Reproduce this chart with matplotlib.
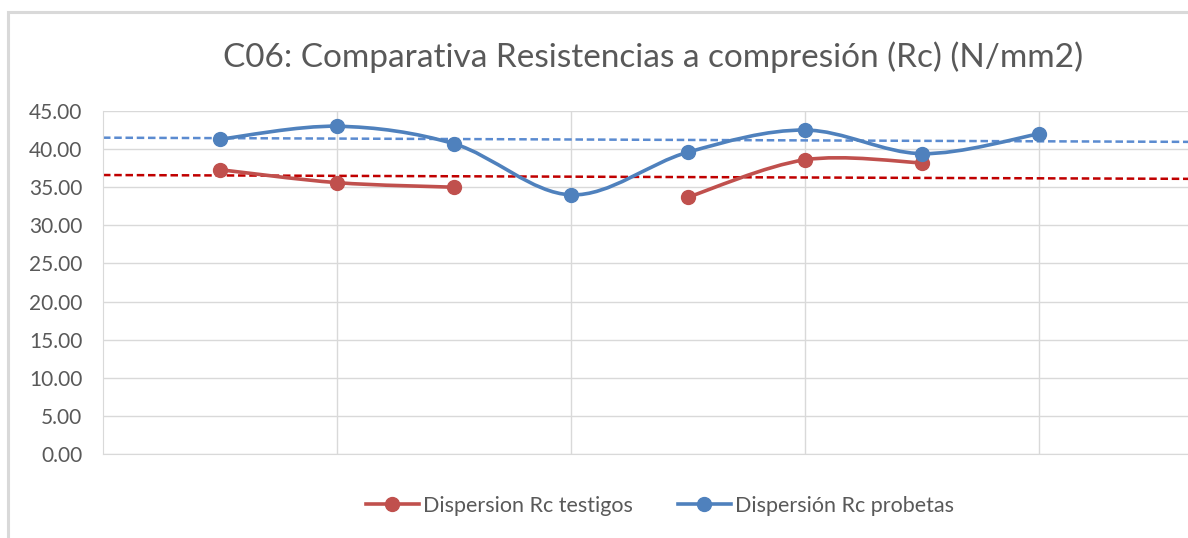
import numpy as np
import matplotlib
matplotlib.use("Agg")
import matplotlib.pyplot as plt
from matplotlib.path import Path
from matplotlib.patches import PathPatch, Rectangle
from matplotlib.lines import Line2D

# ---- data ----
x_pos = [1, 2, 3, 4, 5, 6, 7, 8]
testigos = [37.3, 35.6, 35.0, None, 33.7, 38.6, 38.2, None]
probetas = [41.3, 43.0, 40.7, 34.0, 39.6, 42.5, 39.4, 42.0]
trend_testigos = [36.6, 36.1]   # value at x=0 and at right edge
trend_probetas = [41.5, 40.95]
yticks = [0, 5, 10, 15, 20, 25, 30, 35, 40, 45]
title = "C06: Comparativa Resistencias a compresión (Rc) (N/mm2)"
labels = ["Dispersion Rc testigos", "Dispersión Rc probetas"]

RED = "#C0504D"
BLUE = "#4F81BD"
FONT = ["Lato", "DejaVu Sans"]
plt.rcParams["font.family"] = FONT

fig = plt.figure(figsize=(11.88, 5.38), dpi=100)
W, H = 1188, 538
# frame
fig.patches.append(Rectangle((8 / W, -0.1), 1.2, 1 - 12 / H + 0.1, transform=fig.transFigure,
                             fill=False, edgecolor="#D9D9D9", lw=2.2))

ax = fig.add_axes([103 / W, 1 - 454 / H, 1 - 103 / W, (454 - 111) / H])
XMAX = (W - 103) / 117.0
ax.set_xlim(0, XMAX)
ax.set_ylim(0, 45)
ax.set_yticks(yticks)
ax.set_yticklabels([f"{v:.2f}" for v in yticks])
ax.set_xticks([2, 4, 6, 8])
ax.tick_params(axis="x", length=0, labelbottom=False)
ax.tick_params(axis="y", length=0, labelsize=15, colors="#595959", pad=15)
ax.grid(True, color="#D9D9D9", lw=1)
for s in ["top", "right"]:
    ax.spines[s].set_visible(False)
for s in ["left", "bottom"]:
    ax.spines[s].set_color("#D9D9D9")


def segments(xs, ys):
    seg = []
    for x, y in zip(xs, ys):
        if y is None:
            if seg:
                yield seg
            seg = []
        else:
            seg.append((x, y))
    if seg:
        yield seg


def smooth_path(pts):
    # Excel-like Bezier smoothing (Catmull-Rom, 1/6 tension)
    p = np.array(pts, dtype=float)
    verts = [p[0]]
    codes = [Path.MOVETO]
    n = len(p)
    for i in range(n - 1):
        p0 = p[i - 1] if i > 0 else p[i]
        p1 = p[i]
        p2 = p[i + 1]
        p3 = p[i + 2] if i + 2 < n else p[i + 1]
        c1 = p1 + (p2 - p0) / 6.0
        c2 = p2 - (p3 - p1) / 6.0
        verts += [c1, c2, p2]
        codes += [Path.CURVE4] * 3
    return Path(verts, codes)


for ys, col in [(testigos, RED), (probetas, BLUE)]:
    for seg in segments(x_pos, ys):
        if len(seg) > 1:
            ax.add_patch(PathPatch(smooth_path(seg), fill=False, edgecolor=col, lw=2.6,
                                   capstyle="round", zorder=3))
        sx, sy = zip(*seg)
        ax.plot(sx, sy, "o", color=col, ms=10, zorder=4, clip_on=False)

ax.plot([0, XMAX], trend_testigos, ls=(0, (3, 1.5)), color="#C00000", lw=1.8, zorder=2)
ax.plot([0, XMAX], trend_probetas, ls=(0, (3, 1.5)), color="#5B8BD0", lw=1.8, zorder=2)

fig.text(653 / W, 1 - 67 / H, title, ha="center", va="baseline", fontsize=24, color="#595959")

handles = [Line2D([], [], color=RED, lw=2.6, marker="o", ms=10),
           Line2D([], [], color=BLUE, lw=2.6, marker="o", ms=10)]
fig.legend(handles, labels, loc="center", bbox_to_anchor=(660 / W, 1 - 506 / H), ncol=2,
           frameon=False, fontsize=15.5, labelcolor="#595959", handlelength=2.45,
           handletextpad=0.2, columnspacing=2.1)

fig.savefig("out.png", dpi=100)
